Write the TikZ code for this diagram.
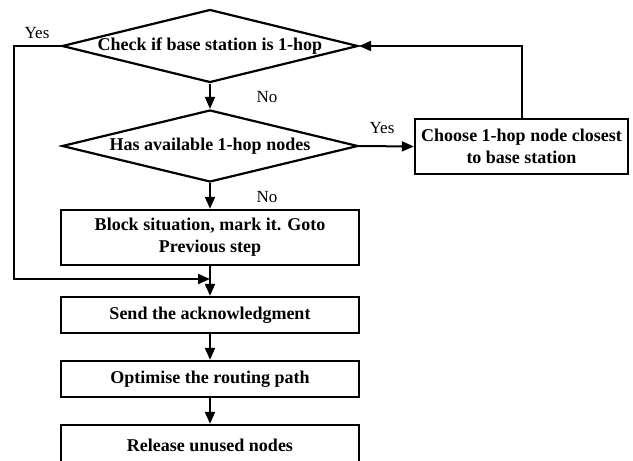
\documentclass[tikz,border=0pt]{standalone}
\usepackage{fontspec}
\setmainfont{Liberation Serif}
\usetikzlibrary{shapes.geometric,arrows.meta}
\tikzset{
  x=1pt, y=-1pt,
  conn/.style={line width=2pt, -{Triangle[length=12pt,width=10pt]}},
  dia/.style={diamond, draw, line width=2.2pt, inner sep=0pt, minimum width=296pt, minimum height=73pt},
  box/.style={rectangle, draw, line width=2.4pt, inner sep=0pt, minimum width=298pt, align=center, font=\fontsize{18}{22}\selectfont\bfseries},
  txt/.style={font=\fontsize{18}{22}\selectfont\bfseries, align=center, inner sep=0pt},
  lab/.style={font=\fontsize{17}{20}\selectfont, inner sep=0pt}
}
\begin{document}
\begin{tikzpicture}
\useasboundingbox (0,0) rectangle (633,461);
\node[dia] (d1) at (210,46) {};
\node[txt] (t1) at (d1.center) {Check if base station is 1-hop};
\node[dia, minimum height=72pt] (d2) at (210,146) {};
\node[txt] (t2) at (d2.center) {Has available 1-hop nodes};
\node[box, minimum width=213pt, minimum height=55pt] (ch) at (521.5,146.5) {Choose 1-hop node closest\\to base station};
\node[box, minimum height=55pt] (bl) at (210,237.5) {Block situation, mark it. Goto\\Previous step};
\node[box, minimum height=36pt] (se) at (210,315) {Send the acknowledgment};
\node[box, minimum height=36pt] (op) at (210,379) {Optimise the routing path};
\node[box, minimum height=40pt] (re) at (210,445) {Release unused nodes};
\coordinate (j) at (210,279);
\coordinate (c1) at (14,46);
\coordinate (c2) at (14,279);
\node[lab] (y1) at (37,33) {Yes};
\node[lab] (n1) at (267,97) {No};
\node[lab] (y2) at (382,128) {Yes};
\node[lab] (n2) at (267,197) {No};
\draw[conn] (d1.south) -- (d2.north);
\draw[conn] (d2.east) -- (ch.west);
\draw[conn] (d2.south) -- (bl.north);
\draw[conn] (bl.south) -- (se.north);
\draw[conn] (se.south) -- (op.north);
\draw[conn] (op.south) -- (re.north);
\draw[conn] (ch.north) |- (d1.east);
\draw[conn] (d1.west) -- (c1) -- (c2) -- (j);
\end{tikzpicture}
\end{document}
